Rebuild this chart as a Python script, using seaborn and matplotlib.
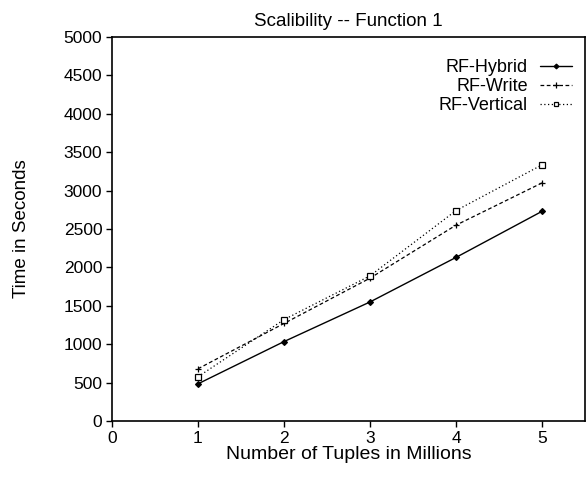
import matplotlib
matplotlib.use("Agg")
import matplotlib.pyplot as plt
import seaborn as sns
import pandas as pd

tuples = [1, 2, 3, 4, 5]
hybrid = [484, 1034, 1550, 2130, 2730]
write = [680, 1270, 1860, 2550, 3100]
vertical = [576, 1320, 1890, 2740, 3335]
series_names = ["RF-Hybrid", "RF-Write", "RF-Vertical"]

sns.set_theme(style="ticks")
plt.rcParams['font.family'] = ['Liberation Sans', 'DejaVu Sans']
plt.rcParams.update({
    "text.color": "black", "axes.labelcolor": "black",
    "xtick.color": "black", "ytick.color": "black",
})

df = pd.DataFrame({
    "x": tuples * 3,
    "y": hybrid + write + vertical,
    "series": [series_names[0]] * 5 + [series_names[1]] * 5 + [series_names[2]] * 5,
})

fig = plt.figure(figsize=(5.86, 4.78), dpi=100)
# axes: left 112px, right 585px, top 37px, bottom 421px
ax = fig.add_axes([112 / 586, 1 - 421 / 478, (585 - 112) / 586, (421 - 37) / 478])

styles = {
    "RF-Hybrid": dict(linestyle="-", marker="D", markersize=3, markerfacecolor="black", lw=1.0),
    "RF-Write": dict(linestyle=(0, (3, 2)), marker="+", markersize=5, lw=0.9),
    "RF-Vertical": dict(linestyle=(0, (1, 2)), marker="s", markersize=4, markerfacecolor="white", lw=0.9),
}
for name in series_names:
    sub = df[df.series == name]
    st = styles[name]
    sns.lineplot(data=sub, x="x", y="y", ax=ax, color="black", label=name,
                 linestyle=st["linestyle"], marker=st["marker"], markersize=st["markersize"],
                 markerfacecolor=st.get("markerfacecolor", "black"), markeredgecolor="black",
                 markeredgewidth=0.9, linewidth=st["lw"])

ax.set_xlim(0, 5.5)
ax.set_ylim(0, 5000)
ax.set_xticks([0, 1, 2, 3, 4, 5])
ax.set_yticks(range(0, 5001, 500))
ax.tick_params(axis="both", labelsize=12.5, direction="out", length=4, color="black", width=1, pad=3)
ax.set_title("Scalibility -- Function 1", fontsize=13.5, pad=8)
ax.set_xlabel("Number of Tuples in Millions", fontsize=14, labelpad=0)
ax.set_ylabel("Time in Seconds", fontsize=13.5, labelpad=24)
for s in ax.spines.values():
    s.set_color("black")
    s.set_linewidth(1.2)
leg = ax.legend(loc="upper right", bbox_to_anchor=(0.973, 0.943), frameon=False,
                markerfirst=False, fontsize=13, handlelength=1.8, borderaxespad=0,
                borderpad=0, labelspacing=0.12, handletextpad=0.65, markerscale=0.8)
fig.savefig("out.png", dpi=100)
